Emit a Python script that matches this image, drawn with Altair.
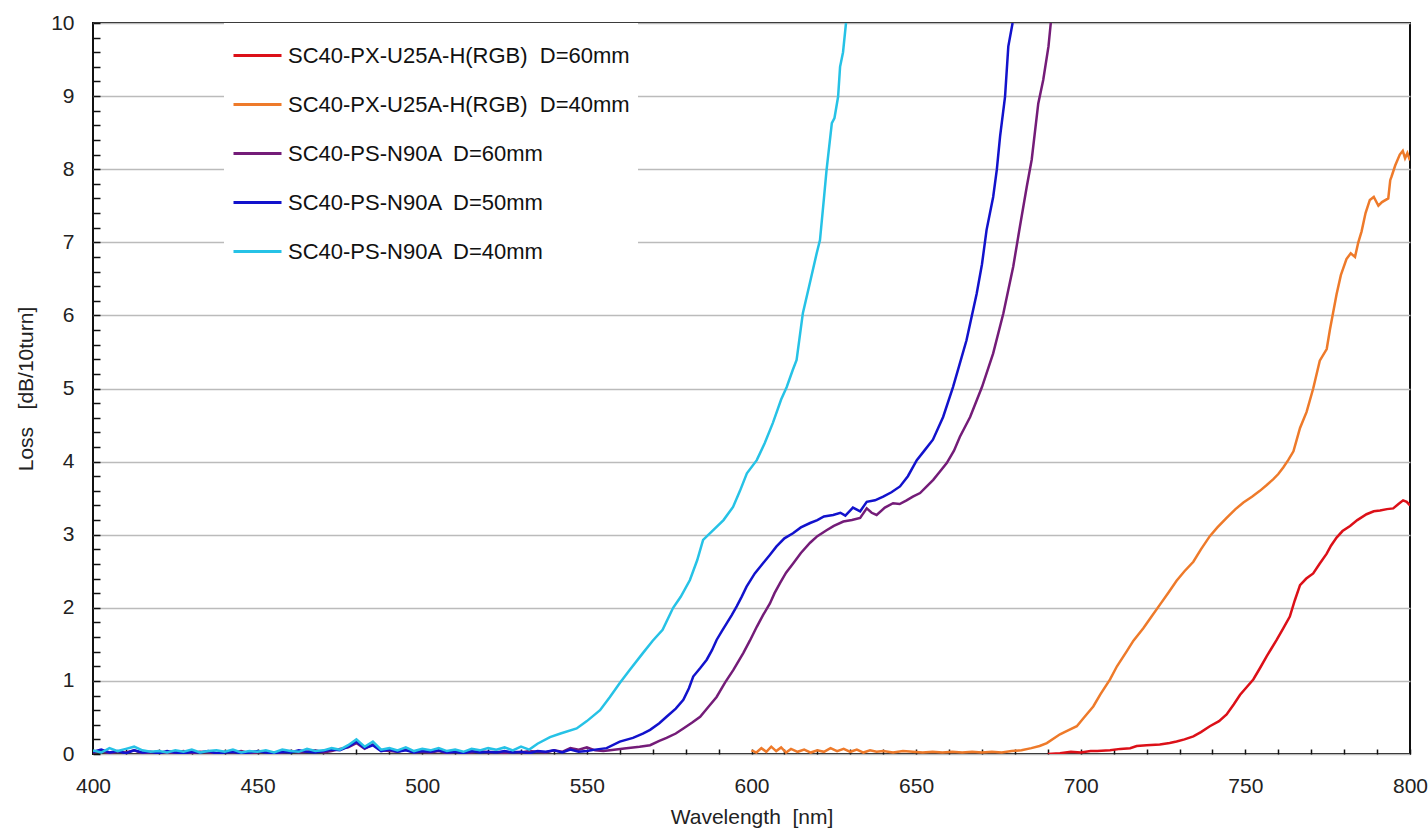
import altair as alt
import pandas as pd

NAMES = [
    "SC40-PX-U25A-H(RGB) \u00a0D=60mm",
    "SC40-PX-U25A-H(RGB) \u00a0D=40mm",
    "SC40-PS-N90A \u00a0D=60mm",
    "SC40-PS-N90A \u00a0D=50mm",
    "SC40-PS-N90A \u00a0D=40mm",
]
COLORS = ["#dc1018", "#ee7a2a", "#741c78", "#1212cc", "#26c2e6"]

# ---- red: SC40-PX-U25A-H(RGB) D=60mm
RED_WL = [690, 693.7, 697, 700, 703, 705, 708.9, 712, 715, 717, 720, 724, 727, 729.1,
          731.5, 734.2, 736.5, 739.2, 742, 744.3, 746.5, 748.4, 750.5, 752.4, 754.5,
          756.5, 758, 759.5, 761.5, 763.5, 765, 766.6, 768.5, 770.6, 772.5, 774.7, 776,
          777.7, 779.5, 781.8, 784, 786.8, 789, 790.9, 793, 794.9, 796.5, 797.9, 799, 800]
RED_LOSS = [0.0, 0.01, 0.03, 0.02, 0.04, 0.04, 0.05, 0.07, 0.08, 0.11, 0.12, 0.13, 0.15, 0.17,
            0.2, 0.24, 0.3, 0.38, 0.45, 0.54, 0.68, 0.81, 0.92, 1.02, 1.18,
            1.34, 1.45, 1.56, 1.72, 1.88, 2.1, 2.31, 2.4, 2.47, 2.6, 2.74, 2.85,
            2.96, 3.05, 3.12, 3.2, 3.28, 3.32, 3.33, 3.35, 3.36, 3.42, 3.47, 3.45, 3.4]

# ---- orange: SC40-PX-U25A-H(RGB) D=40mm
ORA_WL = [600, 601.5, 603, 604.5, 606, 607.5, 609, 610.5, 612, 614, 616, 618, 620, 622, 624,
          626, 628, 630, 632, 634, 636, 638, 640, 643, 646, 649, 652, 655, 658, 661, 664,
          667, 670, 673, 676, 679, 682, 685, 687.5, 689.7, 693.7, 696, 698.8, 701, 703.8,
          706, 708.9, 711, 713.9, 716, 719, 721.5, 724, 726.5, 729.1, 731.5, 734.2, 736.5,
          739.2, 741.5, 744.3, 747, 749.4, 752, 754.4, 756.5, 758.5, 760, 761.5, 763,
          764.6, 765.6, 766.6, 768.6, 770.6, 772.6, 774.7, 775.7, 777.7, 779, 780.7, 782,
          783.3, 784.3, 785.3, 786.5, 787.8, 789, 790.4, 791.5, 793.4, 794, 794.4, 795.5,
          796.9, 797.8, 798.5, 799.2, 800]
ORA_LOSS = [0.05, 0.02, 0.08, 0.03, 0.1, 0.04, 0.09, 0.02, 0.07, 0.03, 0.06, 0.02, 0.05, 0.03, 0.08,
            0.04, 0.07, 0.03, 0.06, 0.02, 0.05, 0.03, 0.04, 0.02, 0.04, 0.03, 0.02, 0.03, 0.02, 0.03, 0.02,
            0.03, 0.02, 0.03, 0.02, 0.04, 0.05, 0.08, 0.11, 0.15, 0.27, 0.32, 0.38, 0.5, 0.65,
            0.82, 1.02, 1.2, 1.4, 1.55, 1.72, 1.88, 2.04, 2.2, 2.37, 2.5, 2.63, 2.8,
            2.98, 3.1, 3.23, 3.35, 3.44, 3.52, 3.6, 3.68, 3.76, 3.83, 3.92, 4.02,
            4.14, 4.3, 4.46, 4.68, 5.0, 5.38, 5.54, 5.81, 6.29, 6.55, 6.77, 6.85,
            6.8, 7.0, 7.15, 7.4, 7.58, 7.62, 7.5, 7.55, 7.6, 7.85, 7.9, 8.05,
            8.2, 8.25, 8.15, 8.22, 8.12]

# ---- purple: SC40-PS-N90A D=60mm
PUR_WL = [400, 402.5, 405, 407.5, 410, 412.5, 415, 417.5, 420, 422.5, 425, 427.5, 430, 432.5,
          435, 437.5, 440, 442.5, 445, 447.5, 450, 452.5, 455, 457.5, 460, 462.5, 465, 467.5,
          470, 472.5, 475, 477.5, 480, 482.5, 485, 487.5, 490, 492.5, 495, 497.5, 500, 502.5,
          505, 507.5, 510, 512.5, 515, 517.5, 520, 522.5, 525, 527.5, 530, 532.5, 535, 537.5,
          540, 542.5, 545, 547.5, 550, 552.5, 555,
          557, 562, 566, 569.2, 572, 574.2, 577, 579.3, 582, 584.4, 587, 589.4, 592, 594.5,
          597.5, 599.5, 601.6, 603.5, 605.6, 607, 608.7, 610.5, 612.7, 615, 617.8, 620,
          622.8, 625, 627.9, 630.5, 633, 635, 636.5, 638, 640.5, 643, 645, 647.1, 649, 651.2,
          653, 655.2, 657, 659.3, 661.5, 663.3, 666.4, 668.5, 670, 673.4, 676.5, 679.5,
          681.5, 683.6, 685.1, 687.1, 688.6, 690.2, 690.9]
PUR_LOSS = [0.02, 0.04, 0.01, 0.03, 0.02, 0.05, 0.01, 0.02, 0.03, 0.01,
            0.02, 0.04, 0.01, 0.03, 0.02, 0.01, 0.03, 0.02, 0.04, 0.01,
            0.02, 0.03, 0.01, 0.02, 0.04, 0.02, 0.03, 0.05, 0.02, 0.04,
            0.07, 0.09, 0.15, 0.07, 0.13, 0.05, 0.04, 0.03, 0.06, 0.02,
            0.03, 0.02, 0.04, 0.01, 0.03, 0.02, 0.02, 0.04, 0.02, 0.03,
            0.01, 0.03, 0.02, 0.04, 0.03, 0.02, 0.05, 0.03, 0.08, 0.06,
            0.09, 0.05, 0.04,
            0.05, 0.08, 0.1, 0.12, 0.18, 0.22, 0.28, 0.35, 0.43, 0.51, 0.65, 0.78, 0.98, 1.15,
            1.38, 1.55, 1.74, 1.9, 2.06, 2.2, 2.34, 2.48, 2.61, 2.75, 2.89, 2.98,
            3.06, 3.12, 3.18, 3.2, 3.23, 3.36, 3.3, 3.27, 3.37, 3.43, 3.42, 3.47, 3.52, 3.57,
            3.65, 3.75, 3.85, 3.98, 4.15, 4.34, 4.61, 4.85, 5.02, 5.48, 6.03, 6.67,
            7.21, 7.76, 8.13, 8.9, 9.22, 9.68, 10.0]

# ---- blue: SC40-PS-N90A D=50mm
BLU_WL = [400, 402.5, 405, 407.5, 410, 412.5, 415, 417.5, 420, 422.5, 425, 427.5, 430, 432.5,
          435, 437.5, 440, 442.5, 445, 447.5, 450, 452.5, 455, 457.5, 460, 462.5, 465, 467.5,
          470, 472.5, 475, 477.5, 480, 482.5, 485, 487.5, 490, 492.5, 495, 497.5, 500, 502.5,
          505, 507.5, 510, 512.5, 515, 517.5, 520, 522.5, 525, 527.5, 530, 532.5, 535, 537.5,
          540, 542.5, 545, 547.5, 550, 552.5,
          556, 560, 564, 567, 569.2, 572, 574.2, 577, 579.3, 581, 582.3, 584.5, 586.4, 588,
          589.4, 591, 592.5, 594, 595.5, 597, 598.5, 601, 603.5, 605.5, 607.6, 610, 612.6,
          615, 617.8, 620, 622, 624.8, 627, 628.5, 630.8, 633, 635, 637.5, 640, 642.5, 645.1,
          647.5, 650.2, 652.5, 655.1, 658.2, 661.2, 663, 665.3, 668.4, 670, 671.4, 673.4,
          674.5, 675.5, 677, 678, 679.3]
BLU_LOSS = [0.03, 0.06, 0.02, 0.04, 0.01, 0.05, 0.02, 0.03, 0.01, 0.04,
            0.02, 0.01, 0.03, 0.02, 0.04, 0.01, 0.02, 0.03, 0.01, 0.02,
            0.04, 0.02, 0.01, 0.03, 0.02, 0.05, 0.03, 0.02, 0.04, 0.06,
            0.05, 0.1, 0.17, 0.08, 0.12, 0.04, 0.06, 0.03, 0.05, 0.02,
            0.04, 0.03, 0.05, 0.02, 0.03, 0.01, 0.04, 0.02, 0.03, 0.02,
            0.04, 0.02, 0.03, 0.01, 0.04, 0.03, 0.05, 0.02, 0.06, 0.03,
            0.04, 0.06,
            0.08, 0.17, 0.22, 0.28, 0.33, 0.42, 0.51, 0.62, 0.74, 0.9, 1.06, 1.18, 1.29, 1.42,
            1.56, 1.68, 1.79, 1.9, 2.02, 2.15, 2.29, 2.47, 2.61, 2.72, 2.84, 2.95, 3.02,
            3.1, 3.16, 3.2, 3.25, 3.27, 3.3, 3.26, 3.37, 3.32, 3.45, 3.47, 3.52, 3.58, 3.66,
            3.8, 4.02, 4.15, 4.3, 4.61, 5.02, 5.3, 5.66, 6.3, 6.7, 7.17, 7.62,
            7.99, 8.45, 8.99, 9.68, 10.0]

# ---- cyan: SC40-PS-N90A D=40mm
CYA_WL = [400, 402.5, 405, 407.5, 410, 412.5, 415, 417.5, 420, 422.5, 425, 427.5, 430, 432.5,
          435, 437.5, 440, 442.5, 445, 447.5, 450, 452.5, 455, 457.5, 460, 462.5, 465, 467.5,
          470, 472.5, 475, 477.5, 480, 482.5, 485, 487.5, 490, 492.5, 495, 497.5, 500, 502.5,
          505, 507.5, 510, 512.5, 515, 517.5, 520, 522.5, 525, 527.5, 530, 532.5, 535,
          538.8, 542, 546.9, 550, 554, 557, 560, 563, 567, 570, 573, 576.2, 578.5, 581.3,
          583.5, 585.3, 588.3, 591.5, 594.4, 596.5, 598.6, 601.6, 604, 606.5, 609, 610.7,
          612.5, 613.7, 615.6, 617.5, 619.8, 620.8, 622, 622.8, 624.4, 625.2, 626.3, 626.9,
          627.8, 628.7]
CYA_LOSS = [0.05, 0.02, 0.08, 0.04, 0.07, 0.1, 0.05, 0.03, 0.04, 0.02,
            0.05, 0.03, 0.06, 0.02, 0.04, 0.05, 0.03, 0.06, 0.02, 0.04,
            0.03, 0.05, 0.02, 0.06, 0.04, 0.03, 0.07, 0.04, 0.05, 0.08,
            0.06, 0.12, 0.2, 0.1, 0.17, 0.06, 0.08, 0.05, 0.09, 0.04,
            0.07, 0.05, 0.08, 0.04, 0.06, 0.03, 0.07, 0.05, 0.08, 0.06,
            0.09, 0.05, 0.1, 0.06, 0.14,
            0.23, 0.28, 0.35, 0.45, 0.6, 0.78, 0.97, 1.15, 1.38, 1.55, 1.7, 2.0, 2.15, 2.38,
            2.65, 2.93, 3.06, 3.2, 3.38, 3.6, 3.84, 4.02, 4.25, 4.53, 4.85, 5.02,
            5.25, 5.39, 6.03, 6.4, 6.85, 7.03, 7.6, 7.99, 8.63, 8.7, 8.99, 9.4,
            9.6, 10.0]

SERIES = [
    (NAMES[0], RED_WL, RED_LOSS),
    (NAMES[1], ORA_WL, ORA_LOSS),
    (NAMES[2], PUR_WL, PUR_LOSS),
    (NAMES[3], BLU_WL, BLU_LOSS),
    (NAMES[4], CYA_WL, CYA_LOSS),
]

rows = []
for name, wls, losses in SERIES:
    for w, l in zip(wls, losses):
        rows.append({"series": name, "wl": w, "loss": l})
df = pd.DataFrame(rows)

FONT = "Liberation Sans"

chart = alt.Chart(df).mark_line(strokeWidth=2.5, clip=True).encode(
    x=alt.X(
        "wl:Q",
        scale=alt.Scale(domain=[400, 800], nice=False, zero=False),
        axis=alt.Axis(
            tickCount=40,
            labelExpr="datum.value % 50 === 0 ? datum.label : ''",
            title="Wavelength \u00a0[nm]",
            grid=False,
            domain=False,
            tickSize=5,
            offset=-5,
            labelPadding=21,
            titlePadding=10,
            labelFlush=False,
            labelOverlap=False,
        ),
    ),
    y=alt.Y(
        "loss:Q",
        scale=alt.Scale(domain=[0, 10], nice=False, zero=True),
        axis=alt.Axis(
            tickCount=50,
            labelExpr="datum.value % 1 === 0 ? format(datum.value, 'd') : ''",
            title="Loss \u00a0 [dB/10turn]",
            grid=True,
            gridOpacity={"condition": {"test": "datum.value % 1 === 0", "value": 1}, "value": 0},
            domain=False,
            tickSize=7,
            offset=-7,
            labelPadding=19,
            titlePadding=14,
            labelFlush=False,
            labelOverlap=False,
        ),
    ),
    color=alt.Color(
        "series:N",
        scale=alt.Scale(domain=NAMES, range=COLORS),
        sort=NAMES,
        legend=alt.Legend(
            title=None,
            orient="none",
            legendX=131,
            legendY=0,
            symbolType="stroke",
            symbolSize=2304,
            symbolStrokeWidth=3,
            labelFont=FONT,
            labelFontSize=22,
            labelColor="#111111",
            labelLimit=600,
            labelOffset=5,
            clipHeight=49,
            rowPadding=0,
            fillColor="white",
            padding=8,
        ),
    ),
).properties(
    width=1317,
    height=731,
    padding={"left": 93, "top": 23, "right": 18, "bottom": 82},
    autosize=alt.AutoSizeParams(type="none"),
    background="white",
).configure_view(
    stroke="#111111",
    strokeWidth=2,
).configure_axis(
    labelFont=FONT,
    titleFont=FONT,
    labelFontSize=21,
    titleFontSize=21,
    titleFontWeight="normal",
    labelColor="#222222",
    titleColor="#222222",
    tickColor="#111111",
    tickWidth=1.5,
    gridColor="#bbbbbb",
    gridWidth=1.5,
)

chart.save("out.html", embed_options={"renderer": "svg", "actions": False})
